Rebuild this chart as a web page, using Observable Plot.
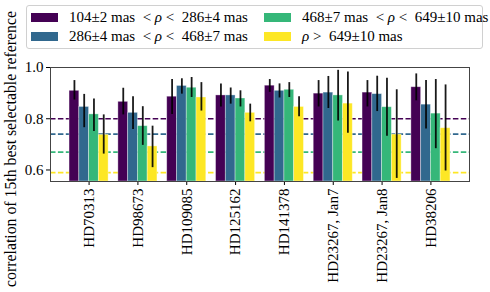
<!DOCTYPE html>
<html><head><meta charset="utf-8">
<script src="https://cdn.jsdelivr.net/npm/d3@7"></script>
<script src="https://cdn.jsdelivr.net/npm/@observablehq/plot@0.6"></script>
<style>
body{margin:0;background:#fff;font-family:"Liberation Serif","Times New Roman",serif;}
#wrap{position:relative;width:490px;height:292px;overflow:hidden;background:#fff}
#chart{position:absolute;left:0;top:0}
#legend{position:absolute;left:26px;top:5px;width:455px;height:42px;border:1px solid #d0d0d0;border-radius:3px;background:#fff;font-size:15px;color:#000}
.item{position:absolute;display:flex;align-items:center;white-space:pre;height:18px;line-height:18px}
.sw{width:27px;height:9px;margin-right:11px;flex:none}
#ylabel{position:absolute;left:-149px;top:140px;width:320px;height:18px;line-height:18px;text-align:center;font-size:15.8px;transform:rotate(-90deg);white-space:nowrap;color:#000}
</style></head>
<body><div id="wrap"><div id="chart"></div><div id="legend"></div><div id="ylabel">correlation of 15th best selectable reference</div></div>
<script>
const targets = ["HD70313","HD98673","HD109085","HD125162","HD141378","HD23267, Jan7","HD23267, Jan8","HD38206"];
const seriesKeys = ["s1","s2","s3","s4"];
const seriesLabels = [
  ["104±2 mas", "<", "286±4 mas"],
  ["286±4 mas", "<", "468±7 mas"],
  ["468±7 mas", "<", "649±10 mas"],
  [null, ">", "649±10 mas"]
];
const colors = ["#440154","#31688e","#35b779","#fde725"];
const thresholds = [0.80, 0.74, 0.67, 0.59];
const yTicks = [0.6, 0.8, 1.0];

const val1 = [0.909,0.866,0.886,0.891,0.929,0.898,0.902,0.923];
const lo1  = [0.873,0.815,0.817,0.846,0.903,0.846,0.846,0.870];
const hi1  = [0.949,0.919,0.953,0.936,0.953,0.949,0.949,0.975];
const val2 = [0.846,0.823,0.928,0.891,0.909,0.902,0.896,0.855];
const lo2  = [0.765,0.758,0.896,0.857,0.881,0.840,0.828,0.760];
const hi2  = [0.895,0.886,0.956,0.920,0.936,0.965,0.966,0.949];
const val3 = [0.817,0.771,0.921,0.879,0.913,0.891,0.845,0.820];
const lo3  = [0.750,0.696,0.883,0.846,0.883,0.791,0.732,0.683];
const hi3  = [0.877,0.847,0.961,0.909,0.941,0.989,0.958,0.953];
const val4 = [0.737,0.692,0.883,0.823,0.846,0.859,0.738,0.763];
const lo4  = [0.662,0.609,0.830,0.788,0.808,0.743,0.567,0.596];
const hi4  = [0.815,0.771,0.941,0.857,0.886,0.982,0.913,0.932];

const barWidth = 0.2;
const vals = [val1,val2,val3,val4], los = [lo1,lo2,lo3,lo4], his = [hi1,hi2,hi3,hi4];
const data = [];
targets.forEach((t,i)=>seriesKeys.forEach((s,j)=>{
  const c = i + (j - 1.5) * barWidth;
  data.push({target:t, series:s, x1:c - barWidth/2, x2:c + barWidth/2, xc:c, value:vals[j][i], lo:los[j][i], hi:his[j][i]});
}));
const lines = thresholds.map((y,j)=>({series:seriesKeys[j], y}));

const n = targets.length;
const span = (n - 1) + 4 * barWidth;
const xDomain = [-2*barWidth - 0.05*span, n - 1 + 2*barWidth + 0.05*span];
const yDomain = [0.555, 1.0];
const font = "Liberation Serif, Times New Roman, serif";

const chart = Plot.plot({
  width: 490, height: 292,
  marginTop: 67, marginBottom: 111, marginLeft: 50, marginRight: 21,
  style: {fontFamily: font, fontSize: "15px", color: "#000", background: "transparent"},
  x: {domain: xDomain, label: null},
  y: {domain: yDomain, label: null},
  color: {domain: seriesKeys, range: colors},
  marks: [
    Plot.ruleY(lines, {y: "y", stroke: "series", strokeWidth: 1.7, strokeDasharray: "5.5,2.4"}),
    Plot.rectY(data, {x1: "x1", x2: "x2", y1: yDomain[0], y2: "value", fill: "series", stroke: "white", strokeOpacity: 0.45, strokeWidth: 0.8}),
    Plot.ruleX(data, {x: "xc", y1: "lo", y2: "hi", stroke: "black", strokeWidth: 1.8, strokeOpacity: 0.9}),
    Plot.axisY({ticks: yTicks, tickFormat: d3.format(".1f"), tickSize: 4, tickPadding: 3, label: null, fontSize: 15}),
    Plot.axisX({ticks: d3.range(n), tickFormat: i => targets[i], tickRotate: -90, tickSize: 4, tickPadding: 3, label: null, fontSize: 15}),
    Plot.frame({stroke: "#444", strokeWidth: 1})
  ]
});
document.getElementById("chart").appendChild(chart);

const legend = document.getElementById("legend");
const pos = [[4,2],[4,21],[237,2],[237,21]];
seriesLabels.forEach((lab,j)=>{
  const d = document.createElement("div");
  d.className = "item";
  d.style.left = pos[j][0] + "px";
  d.style.top = pos[j][1] + "px";
  const sw = document.createElement("span");
  sw.className = "sw"; sw.style.background = colors[j];
  d.appendChild(sw);
  const t = document.createElement("span");
  t.innerHTML = lab[0] ? (lab[0] + "  " + lab[1] + " <i>ρ</i> " + lab[1] + "  " + lab[2])
                       : ("<i>ρ</i> " + lab[1] + "  " + lab[2]);
  d.appendChild(t);
  legend.appendChild(d);
});
</script>
</body></html>
